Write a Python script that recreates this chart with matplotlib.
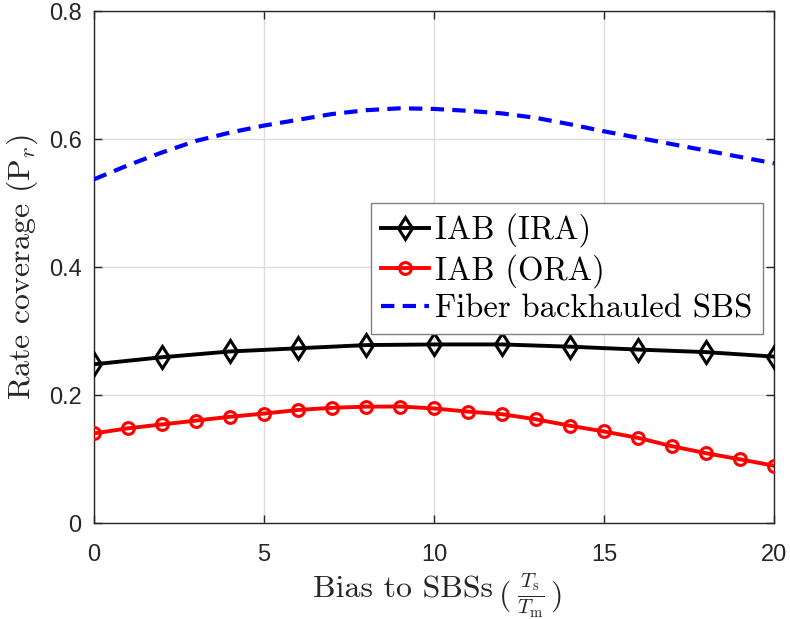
import matplotlib
matplotlib.use("Agg")
import matplotlib.pyplot as plt
from matplotlib.ticker import FixedLocator, FixedFormatter

plt.rcParams['mathtext.fontset'] = 'cm'

x_ira = [0, 2, 4, 6, 8, 10, 12, 14, 16, 18, 20]
y_ira = [0.248, 0.259, 0.268, 0.273, 0.278, 0.279, 0.279, 0.2755, 0.271, 0.267, 0.260]

x_ora = list(range(0, 21))
y_ora = [0.140, 0.148, 0.154, 0.160, 0.166, 0.171, 0.1766, 0.180, 0.1818, 0.182,
         0.179, 0.174, 0.170, 0.162, 0.152, 0.143, 0.133, 0.120, 0.109, 0.0995, 0.0895]

x_fib = list(range(0, 21))
y_fib = [0.537, 0.559, 0.579, 0.597, 0.610, 0.621, 0.630, 0.639, 0.645, 0.648,
         0.647, 0.644, 0.640, 0.633, 0.623, 0.612, 0.602, 0.592, 0.582, 0.572, 0.562]

xticks = [0, 5, 10, 15, 20]
yticks = [0, 0.2, 0.4, 0.6, 0.8]
yticklabels = ['0', '0.2', '0.4', '0.6', '0.8']
labels = ['IAB (IRA)', 'IAB (ORA)', 'Fiber backhauled SBS']

W, H = 790, 619
fig = plt.figure(figsize=(W / 100, H / 100), dpi=100)
ax = fig.add_axes([94 / W, 1 - 523 / H, 680 / W, 512 / H])

ax.plot(x_ira, y_ira, color='black', lw=2.8, marker='d', ms=11.5, mew=2.2,
        mfc='none', mec='black', label=labels[0], zorder=3)
ax.plot(x_ora, y_ora, color='red', lw=2.8, marker='o', ms=8.5, mew=2.2,
        mfc='none', mec='red', label=labels[1], zorder=3)
ax.plot(x_fib, y_fib, color='blue', lw=3, dashes=(3.2, 2.0), label=labels[2], zorder=3)

ax.set_xlim(0, 20)
ax.set_ylim(0, 0.8)
ax.xaxis.set_major_locator(FixedLocator(xticks))
ax.yaxis.set_major_locator(FixedLocator(yticks))
ax.yaxis.set_major_formatter(FixedFormatter(yticklabels))
ax.grid(True, color='#dcdcdc', lw=1.0)
ax.set_axisbelow(True)

for s in ax.spines.values():
    s.set_color('#262626')
    s.set_linewidth(1.0)
ax.tick_params(direction='in', length=6, width=1.0, colors='#262626',
               top=True, right=True, labelsize=17)
ax.tick_params(axis='x', pad=15)
ax.tick_params(axis='y', pad=9)
for lab in ax.get_xticklabels() + ax.get_yticklabels():
    lab.set_fontfamily('Liberation Sans')

# x label built from pieces (text + smaller fraction, as in the reference)
lab_kw = dict(family='cmr10', size=23, color='#262626')
fig.text(493 / W, 1 - 597 / H, 'Bias to SBSs', ha='right', va='baseline', **lab_kw)
fig.text(499 / W, 1 - 604 / H, '(', ha='left', va='baseline', **lab_kw)
fig.text(531 / W, 1 - 596 / H, r'$\frac{T_\mathrm{s}}{T_\mathrm{m}}$', ha='center',
         va='center', size=21.5, color='#262626')
fig.text(550 / W, 1 - 604 / H, ')', ha='left', va='baseline', **lab_kw)

ax.set_ylabel(r'Rate coverage ($\mathrm{P}_r$)', fontsize=23, family='cmr10',
              color='#262626', labelpad=6)

leg = ax.legend(loc='upper right', bbox_to_anchor=(0.984, 0.625), borderaxespad=0,
                fancybox=False, framealpha=1, edgecolor='#808080',
                prop={'family': 'cmr10', 'size': 23.5}, handlelength=1.45,
                handletextpad=0.2, labelspacing=0.2, borderpad=0.32)
leg.get_frame().set_linewidth(1.0)

fig.savefig('out.png', dpi=100)
